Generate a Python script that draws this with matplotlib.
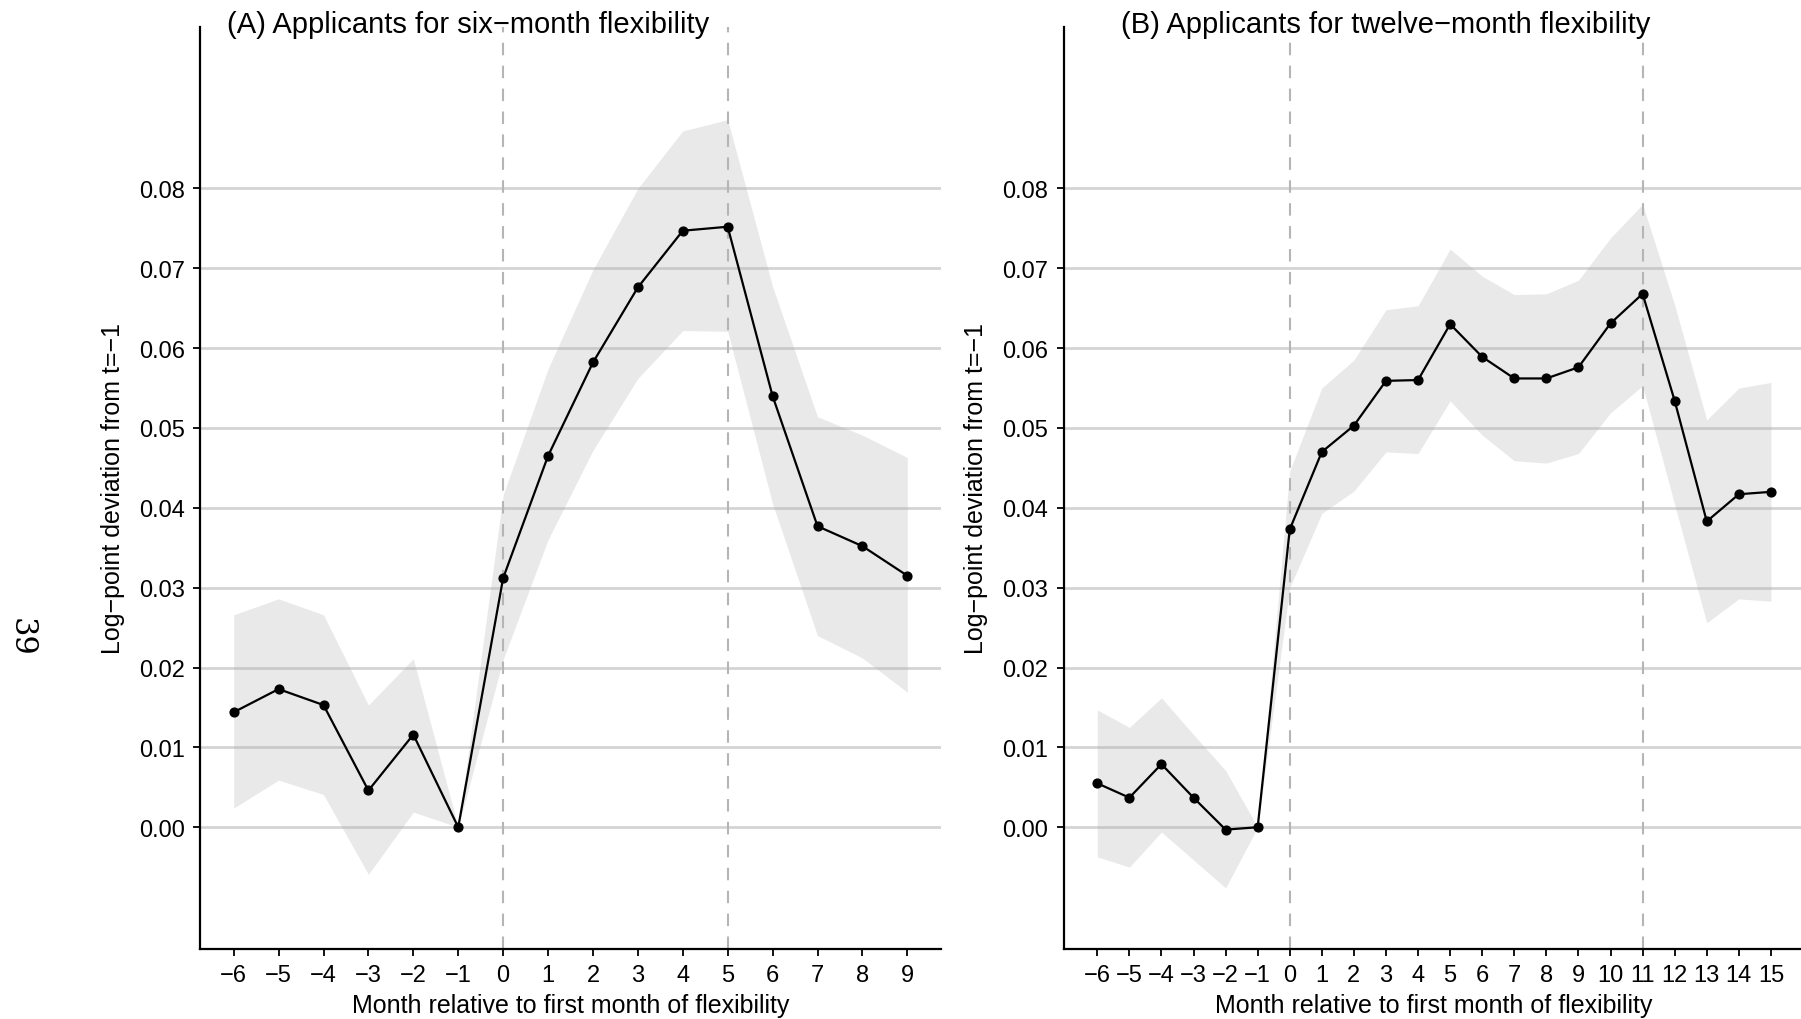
import matplotlib
matplotlib.use("Agg")
import matplotlib.pyplot as plt

plt.rcParams['font.family'] = ['Liberation Sans', 'DejaVu Sans']
plt.rcParams['axes.unicode_minus'] = True

# Panel A: six-month flexibility
months_a = [-6, -5, -4, -3, -2, -1, 0, 1, 2, 3, 4, 5, 6, 7, 8, 9]
est_a = [0.0144, 0.0173, 0.0153, 0.0046, 0.0116, 0.0, 0.0312, 0.0465, 0.0582, 0.0676,
         0.0747, 0.0752, 0.0540, 0.0377, 0.0352, 0.0315]
hi_a = [0.0266, 0.0286, 0.0266, 0.0153, 0.0211, 0.0, 0.0416, 0.0574, 0.0698, 0.0800,
        0.0872, 0.0886, 0.0677, 0.0514, 0.0491, 0.0463]
lo_a = [0.0024, 0.0059, 0.0041, -0.0059, 0.0019, 0.0, 0.0210, 0.0360, 0.0472, 0.0562,
        0.0622, 0.0621, 0.0405, 0.0240, 0.0212, 0.0169]

# Panel B: twelve-month flexibility
months_b = [-6, -5, -4, -3, -2, -1, 0, 1, 2, 3, 4, 5, 6, 7, 8, 9, 10, 11, 12, 13, 14, 15]
est_b = [0.0055, 0.0037, 0.0079, 0.0037, -0.0003, 0.0, 0.0373, 0.0470, 0.0503, 0.0559,
         0.0560, 0.0630, 0.0589, 0.0562, 0.0562, 0.0576, 0.0631, 0.0668, 0.0534, 0.0383,
         0.0417, 0.0420]
hi_b = [0.0147, 0.0125, 0.0162, 0.0116, 0.0071, 0.0, 0.0446, 0.0550, 0.0585, 0.0648,
        0.0653, 0.0724, 0.0690, 0.0667, 0.0668, 0.0685, 0.0738, 0.0780, 0.0654, 0.0510,
        0.0550, 0.0557]
lo_b = [-0.0037, -0.0050, -0.0006, -0.0041, -0.0076, 0.0, 0.0300, 0.0393, 0.0421, 0.0470,
        0.0468, 0.0534, 0.0491, 0.0459, 0.0456, 0.0468, 0.0519, 0.0553, 0.0404, 0.0256,
        0.0286, 0.0283]

yticks = [0.00, 0.01, 0.02, 0.03, 0.04, 0.05, 0.06, 0.07, 0.08]
ylabel = "Log\u2212point deviation from t=\u22121"
xlabel = "Month relative to first month of flexibility"

W, H = 1801, 1020
fig = plt.figure(figsize=(W / 100, H / 100), dpi=100)

panels = [
    (months_a, est_a, hi_a, lo_a, [0, 5], (-6.75, 9.75), 200,
     "(A) Applicants for six\u2212month flexibility", 227),
    (months_b, est_b, hi_b, lo_b, [0, 11], (-7.05, 16.05), 1063.6,
     "(B) Applicants for twelve\u2212month flexibility", 1121),
]

ax_bottom, ax_top = 950, 27.7
ax_w = 741

for months, est, hi, lo, vlines, xlim, left_px, title, title_px in panels:
    ax = fig.add_axes([left_px / W, 1 - ax_bottom / H, ax_w / W, (ax_bottom - ax_top) / H])
    ax.set_xlim(*xlim)
    ax.set_ylim(-0.01525, 0.10025)

    # horizontal grid
    for yv in yticks:
        ax.axhline(yv, color='#d4d4d4', lw=2.0, zorder=0)

    ax.fill_between(months, lo, hi, color='#b0b0b0', alpha=0.28, lw=0, zorder=1)
    for xv in vlines:
        ax.axvline(xv, color='#b5b5b5', lw=1.5, ls=(0, (6, 5)), zorder=2)
    ax.plot(months, est, color='black', lw=1.6, zorder=3)
    ax.scatter(months, est, s=40, color='black', zorder=4)

    ax.set_xticks(months)
    ax.set_xticklabels([str(m).replace('-', '\u2212') for m in months])
    ax.set_yticks(yticks)
    ax.set_yticklabels(["%.2f" % v for v in yticks])
    ax.tick_params(axis='both', direction='out', length=5, width=1.3, labelsize=17,
                   colors='black', pad=6)

    for side in ['top', 'right']:
        ax.spines[side].set_visible(False)
    for side in ['left', 'bottom']:
        ax.spines[side].set_linewidth(1.6)
        ax.spines[side].set_color('black')

    ax.set_xlabel(xlabel, fontsize=18, labelpad=5)
    ax.set_ylabel(ylabel, fontsize=18, labelpad=10)

    fig.text(title_px / W, 1 - 25 / H, title, fontsize=21, ha='left', va='center')

# page number printed on the scanned page
fig.text(20.7 / W, 1 - 637 / H, "39", fontsize=22, family=['DejaVu Serif'],
         rotation=-90, ha='center', va='center')

fig.savefig("out.png", dpi=100)
